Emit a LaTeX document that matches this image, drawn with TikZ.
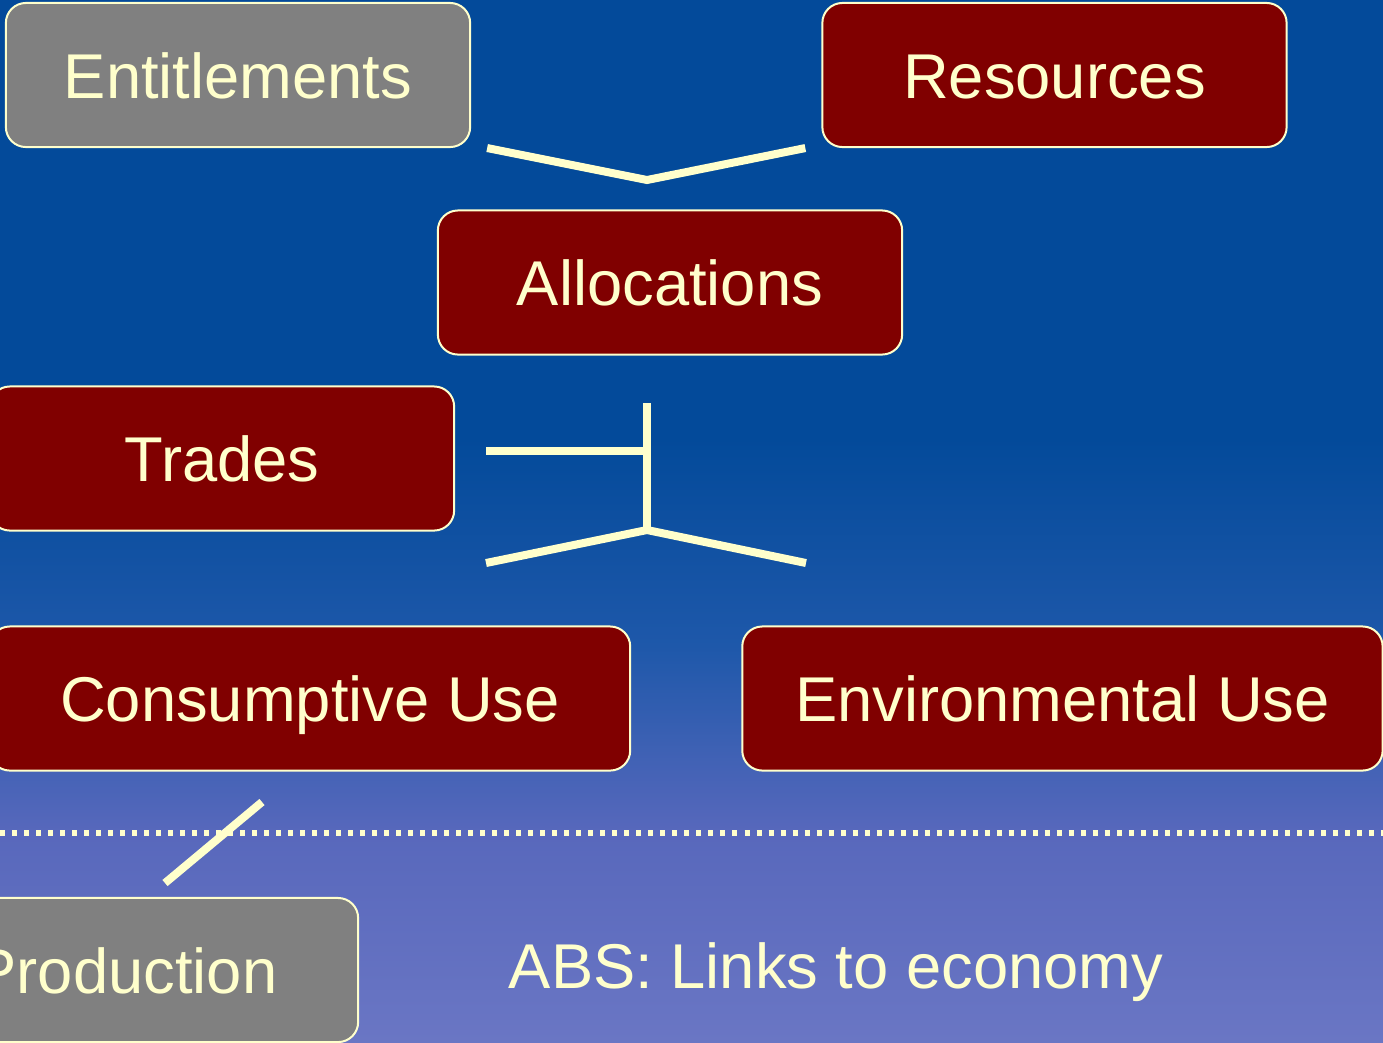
\documentclass[tikz,border=0pt]{standalone}
\usepackage{fontspec}
\setmainfont{Liberation Sans}
\usetikzlibrary{positioning}

\definecolor{cream}{RGB}{255,255,204}
\definecolor{wine}{RGB}{128,0,0}
\definecolor{slate}{RGB}{128,128,128}
\definecolor{sky}{RGB}{3,74,154}
\definecolor{dusk}{RGB}{30,88,170}
\definecolor{mist}{RGB}{88,104,188}
\definecolor{haze}{RGB}{106,118,196}
\pgfdeclareverticalshading{skyfade}{100bp}{color(0bp)=(haze); color(25bp)=(haze); color(35bp)=(mist); color(44bp)=(dusk); color(54bp)=(sky); color(100bp)=(sky)}

\begin{document}
\begin{tikzpicture}[
  x=0.01cm, y=-0.01cm,
  every node/.style={font=\fontsize{18}{21}\selectfont, text=cream},
  box/.style={rectangle, rounded corners=0.2cm, draw=cream, line width=0.02cm, minimum width=4.64cm, minimum height=1.44cm, text height=0.46cm, text depth=0cm, align=center},
  redbox/.style={box, fill=wine},
  greybox/.style={box, fill=slate},
  link/.style={draw=cream, line width=0.08cm},
  divider/.style={draw=cream, line width=0.055cm, dash pattern=on 0.05cm off 0.07cm}
]
\useasboundingbox (0,0) rectangle (1383,1042);
\clip (0,0) rectangle (1383,1042);
\shade[shading=skyfade] (0,0) rectangle (1383,1042);

\node[greybox] (entitlements) at (238,75) {Entitlements};
\node[redbox, right=3.50cm of entitlements] (resources) {Resources};
\node[redbox] (allocations) at (670,282.5) {Allocations};
\node[redbox] (trades) at (222,458.5) {Trades};
\node[redbox, minimum width=6.4cm] (consumptive) at (310,698.5) {Consumptive Use};
\node[redbox, minimum width=6.4cm, right=1.10cm of consumptive] (environmental) {Environmental Use};
\node[greybox] (production) at (126,970) {Production};
\node[anchor=base] (caption) at (836,988) {ABS: Links to economy};

\coordinate (meet) at (647,180);
\coordinate (stem top) at (647,403);
\coordinate (tee) at (647,451);
\coordinate (trade end) at (486,451);
\coordinate (fork) at (647,530);
\coordinate (split left) at (486,563);
\coordinate (split right) at (806,563);
\coordinate (prod end) at (165,883);
\coordinate (cons end) at (262,802);
\coordinate (rule left) at (0,833);
\coordinate (rule right) at (1383,833);

\draw[link] ([xshift=0.16cm]entitlements.south east) -- (meet) -- ([xshift=-0.16cm]resources.south west);
\draw[link] (trade end) -- (tee);
\draw[link] (stem top) -- (fork);
\draw[link] (split left) -- (fork) -- (split right);
\draw[divider] (rule left) -- (rule right);
\draw[link] (prod end) -- (cons end);
\end{tikzpicture}
\end{document}
